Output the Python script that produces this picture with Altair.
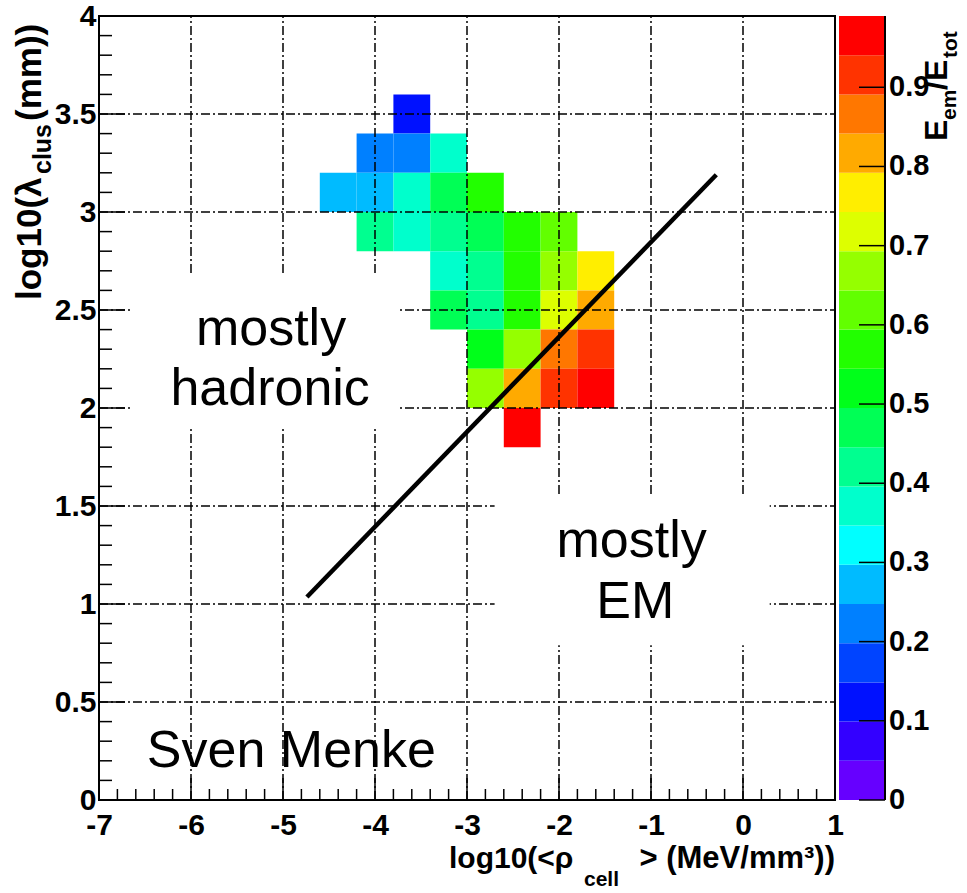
import altair as alt
import numpy as np
import pandas as pd

FONT = "Liberation Sans"

# ---------------- data: 2D histogram cells (lower bin edges) and mean E_em/E_tot ----------------
BIN_W = 0.4
BIN_H = 0.2
cell_x = [-3.8,
          -4.2, -3.8, -3.4,
          -4.6, -4.2, -3.8, -3.4, -3.0,
          -4.2, -3.8, -3.4, -3.0, -2.6, -2.2,
          -3.4, -3.0, -2.6, -2.2, -1.8,
          -3.4, -3.0, -2.6, -2.2, -1.8,
          -3.0, -2.6, -2.2, -1.8,
          -3.0, -2.6, -2.2, -1.8,
          -2.6]
cell_y = [3.4,
          3.2, 3.2, 3.2,
          3.0, 3.0, 3.0, 3.0, 3.0,
          2.8, 2.8, 2.8, 2.8, 2.8, 2.8,
          2.6, 2.6, 2.6, 2.6, 2.6,
          2.4, 2.4, 2.4, 2.4, 2.4,
          2.2, 2.2, 2.2, 2.2,
          2.0, 2.0, 2.0, 2.0,
          1.8]
cell_v = [0.12,
          0.22, 0.22, 0.37,
          0.27, 0.27, 0.37, 0.47, 0.57,
          0.42, 0.37, 0.42, 0.47, 0.57, 0.62,
          0.37, 0.42, 0.57, 0.67, 0.77,
          0.47, 0.42, 0.57, 0.72, 0.82,
          0.52, 0.67, 0.87, 0.92,
          0.67, 0.82, 0.92, 0.97,
          0.97]

# palette (20 contour levels, violet -> red)
palette = ["#6600ff", "#3300ff", "#0011ff", "#0044ff", "#0080ff", "#00bbff", "#00ffff",
           "#00ffcc", "#00ff90", "#00ff55", "#00ff1a", "#22ff00", "#62ff00", "#95ff00",
           "#ddff00", "#ffee00", "#ffaa00", "#ff7700", "#ff3300", "#ff0000"]
Z_MAX = 0.99
cb_tick_values = [0, 0.1, 0.2, 0.3, 0.4, 0.5, 0.6, 0.7, 0.8, 0.9]
cb_tick_labels = ["0", "0.1", "0.2", "0.3", "0.4", "0.5", "0.6", "0.7", "0.8", "0.9"]

x_labels = [-7, -6, -5, -4, -3, -2, -1, 0, 1]
y_labels = [0, 0.5, 1, 1.5, 2, 2.5, 3, 3.5, 4]
grid_x = [-6, -5, -4, -3, -2, -1, 0]
grid_y = [0.5, 1, 1.5, 2, 2.5, 3, 3.5]

# annotations (data coordinates)
ann_text = ["mostly", "hadronic", "mostly", "EM"]
ann_x = [-5.13, -5.14, -1.21, -1.17]
ann_y = [2.32, 2.015, 1.24, 0.93]
sig_text = ["Sven Menke"]
sig_x = [-6.48]
sig_y = [0.17]

# separating line
line_x = [-4.74, -0.29]
line_y = [1.036, 3.19]

# white boxes behind the labels
box_x = [-6.66, -2.70]
box_x2 = [-3.73, 0.29]
box_y = [1.90, 0.79]
box_y2 = [2.68, 1.546]

# ---------------- frames ----------------
W, H = 736, 784
PAD_L, PAD_T = 99, 16

cells = pd.DataFrame({"x": cell_x, "y": cell_y, "v": cell_v})
cells["x2"] = cells["x"] + BIN_W
cells["y2"] = cells["y"] + BIN_H

edges = [Z_MAX * k / 20 for k in range(21)]
bands = pd.DataFrame({"lo": edges[:-1], "hi": edges[1:]})
bands["mid"] = (bands["lo"] + bands["hi"]) / 2
bands["x0"] = 0.0
bands["x1"] = 1.0

color_scale = alt.Scale(type="threshold", domain=edges[1:-1], range=palette)

xs = alt.Scale(domain=[-7, 1], nice=False, zero=False)
ys = alt.Scale(domain=[0, 4], nice=False, zero=False)
lab = dict(labelFont=FONT, labelFontSize=30, labelFontWeight="bold", labelColor="black",
           ticks=False, tickSize=0, domain=False, grid=False, labelOverlap=False,
           labelFlush=False, labelExpr="'' + datum.value")
x_axis = alt.Axis(values=x_labels, labelPadding=10, **lab)
y_axis = alt.Axis(values=y_labels, labelPadding=3, **lab)


def X(f):
    return alt.X(f, type="quantitative", scale=xs, axis=x_axis, title=None)


def Y(f):
    return alt.Y(f, type="quantitative", scale=ys, axis=y_axis, title=None)


def X2(f):
    return alt.X2(f)


def Y2(f):
    return alt.Y2(f)


rects = alt.Chart(cells).mark_rect(strokeWidth=0).encode(
    x=X("x"), x2=X2("x2"), y=Y("y"), y2=Y2("y2"),
    color=alt.Color("v:Q", scale=color_scale, legend=None))

dash = [9, 3, 2, 3]
gv = alt.Chart(pd.DataFrame({"g": grid_x, "a": 0, "b": 4})).mark_rule(
    color="black", strokeWidth=1.5, strokeDash=dash).encode(x=X("g"), y=Y("a"), y2=Y2("b"))
gh = alt.Chart(pd.DataFrame({"g": grid_y, "a": -7, "b": 1})).mark_rule(
    color="black", strokeWidth=1.5, strokeDash=dash).encode(y=Y("g"), x=X("a"), x2=X2("b"))

boxes = alt.Chart(pd.DataFrame({"x": box_x, "x2": box_x2, "y": box_y, "y2": box_y2})).mark_rect(
    color="white").encode(x=X("x"), x2=X2("x2"), y=Y("y"), y2=Y2("y2"))

# inner ticks (ROOT style)
xt_major = [-6, -5, -4, -3, -2, -1, 0]
xt_minor = [round(-7 + 0.2 * k, 2) for k in range(41) if k % 5 != 0]
yt_major = [0.5, 1, 1.5, 2, 2.5, 3, 3.5]
yt_minor = [round(0.1 * k, 2) for k in range(41) if k % 5 != 0]
XT_MAJ, XT_MIN = 22 / 196, 11 / 196
YT_MAJ, YT_MIN = 26 / 92, 13 / 92
xt = pd.DataFrame({"t": xt_major + xt_minor, "a": 0.0,
                   "b": [XT_MAJ] * len(xt_major) + [XT_MIN] * len(xt_minor)})
yt = pd.DataFrame({"t": yt_major + yt_minor, "a": -7.0,
                   "b": [-7 + YT_MAJ] * len(yt_major) + [-7 + YT_MIN] * len(yt_minor)})
xticks = alt.Chart(xt).mark_rule(color="black", strokeWidth=1.5).encode(x=X("t"), y=Y("a"), y2=Y2("b"))
yticks = alt.Chart(yt).mark_rule(color="black", strokeWidth=1.5).encode(y=Y("t"), x=X("a"), x2=X2("b"))

frame = alt.Chart(pd.DataFrame({"x": [-7], "x2": [1], "y": [0], "y2": [4]})).mark_rect(
    filled=False, stroke="black", strokeWidth=2).encode(x=X("x"), x2=X2("x2"), y=Y("y"), y2=Y2("y2"))

ann = alt.Chart(pd.DataFrame({"x": ann_x, "y": ann_y, "t": ann_text})).mark_text(
    font=FONT, fontSize=52, align="center", baseline="alphabetic", color="black").encode(
    x=X("x"), y=Y("y"), text="t:N")
sig = alt.Chart(pd.DataFrame({"x": sig_x, "y": sig_y, "t": sig_text})).mark_text(
    font=FONT, fontSize=52, align="left", baseline="alphabetic", color="black").encode(
    x=X("x"), y=Y("y"), text="t:N")

sep = alt.Chart(pd.DataFrame({"x": line_x, "y": line_y})).mark_line(
    color="black", strokeWidth=4.5, strokeCap="butt").encode(x=X("x"), y=Y("y"))

one = pd.DataFrame({"d": [0]})


def ptext(txt, px, py, size, angle=0, align="left", weight="bold"):
    kw = dict(text=txt, font=FONT, fontSize=size, fontWeight=weight, align=align,
              baseline="alphabetic", color="black")
    if angle:
        kw["angle"] = angle
    return alt.Chart(one).mark_text(**kw).encode(x=alt.value(px - PAD_L), y=alt.value(py - PAD_T))


titles = [
    # x-axis title
    ptext("log10(<ρ", 449, 868, 30),
    ptext("cell", 584, 886, 21),
    ptext("> (MeV/mm³))", 835, 868, 31, align="right"),
    # y-axis title (rotated)
    ptext("log10(λ", 41, 300, 35, angle=270),
    ptext("clus", 51, 174, 25, angle=270),
    ptext("(mm))", 41, 121, 35, angle=270),
    # colour-bar title (rotated)
    ptext("E", 947, 141, 32, angle=270),
    ptext("em", 956, 120, 21, angle=270),
    ptext("/E", 947, 90, 32, angle=270),
    ptext("tot", 957, 58, 21, angle=270),
]

main = alt.layer(rects, gv, gh, boxes, xticks, yticks, frame, ann, sig, sep, *titles)

# ---------------- colour bar (independent scales) ----------------
cbx = alt.Scale(domain=[0, 1], range=[740, 786], nice=False, zero=False)
cby = alt.Scale(domain=[0, Z_MAX], nice=False, zero=False)
cb_rect = alt.Chart(bands).mark_rect(strokeWidth=0).encode(
    x=alt.X("x0:Q", scale=cbx, axis=None), x2="x1:Q",
    y=alt.Y("lo:Q", scale=cby, axis=None), y2="hi:Q",
    color=alt.Color("mid:Q", scale=color_scale, legend=None))
cb_t = pd.DataFrame({"v": cb_tick_values, "lab": cb_tick_labels, "a": 0.435, "b": 1.0})
cb_ticks = alt.Chart(cb_t).mark_rule(color="black", strokeWidth=1.5).encode(
    x=alt.X("a:Q", scale=cbx, axis=None), x2="b:Q", y=alt.Y("v:Q", scale=cby, axis=None))
cb_edge = alt.Chart(pd.DataFrame({"a": [1.0], "y0": [0.0], "y1": [Z_MAX]})).mark_rule(
    color="black", strokeWidth=2).encode(
    x=alt.X("a:Q", scale=cbx, axis=None), y=alt.Y("y0:Q", scale=cby, axis=None), y2="y1:Q")
cb_lab = alt.Chart(cb_t).mark_text(font=FONT, fontSize=29, fontWeight="bold", align="left",
                                   baseline="middle", dx=4, color="black").encode(
    x=alt.X("b:Q", scale=cbx, axis=None), y=alt.Y("v:Q", scale=cby, axis=None), text="lab:N")
cbar = alt.layer(cb_rect, cb_ticks, cb_edge, cb_lab)

chart = alt.layer(main, cbar).resolve_scale(x="independent", y="independent").properties(
    width=W, height=H,
    autosize=alt.AutoSizeParams(type="none"),
    padding={"left": PAD_L, "top": PAD_T, "right": 967 - PAD_L - W, "bottom": 893 - PAD_T - H},
).configure_view(stroke=None).configure(background="white")

chart.save("out.html", embed_options={"renderer": "svg", "actions": False})
